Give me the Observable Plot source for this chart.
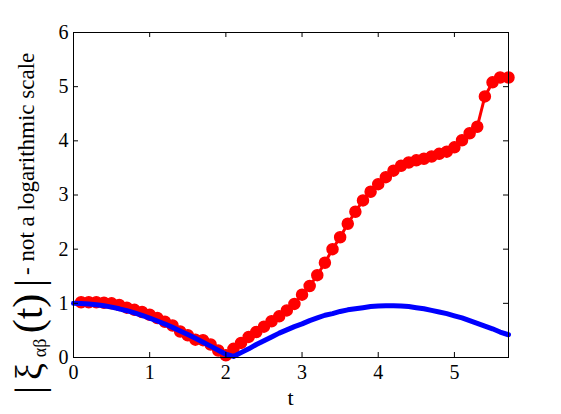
<!DOCTYPE html>
<html><head><meta charset="utf-8">
<script src="https://cdn.jsdelivr.net/npm/d3@7"></script>
<script src="https://cdn.jsdelivr.net/npm/@observablehq/plot@0.6"></script>
<style>body{margin:0;background:#fff}</style>
</head><body>
<script>
// blue series (smooth curve)
const tBlue = [0,0.1,0.2,0.3,0.4,0.5,0.6,0.7,0.8,0.9,1.0,1.1,1.2,1.3,1.4,1.5,1.6,1.7,1.8,1.9,2.0,2.1,2.2,2.3,2.4,2.5,2.6,2.7,2.8,2.9,3.0,3.1,3.2,3.3,3.4,3.5,3.6,3.7,3.8,3.9,4.0,4.1,4.2,4.3,4.4,4.5,4.6,4.7,4.8,4.9,5.0,5.1,5.2,5.3,5.4,5.5,5.6,5.71];
const yBlue = [1.00,0.997,0.989,0.974,0.955,0.93,0.899,0.864,0.823,0.778,0.728,0.674,0.617,0.556,0.491,0.424,0.355,0.283,0.21,0.135,0.06,0.02,0.09,0.16,0.24,0.31,0.38,0.45,0.51,0.57,0.62,0.68,0.73,0.78,0.81,0.85,0.88,0.90,0.92,0.94,0.95,0.955,0.955,0.95,0.94,0.92,0.90,0.87,0.84,0.81,0.77,0.73,0.68,0.63,0.58,0.53,0.47,0.42];
// red series (markers)
const tRed = [0.1,0.2,0.3,0.4,0.5,0.6,0.7,0.8,0.9,1.0,1.1,1.2,1.3,1.4,1.5,1.6,1.7,1.8,1.9,2.0,2.1,2.2,2.3,2.4,2.5,2.6,2.7,2.8,2.9,3.0,3.1,3.2,3.3,3.4,3.5,3.6,3.7,3.8,3.9,4.0,4.1,4.2,4.3,4.4,4.5,4.6,4.7,4.8,4.9,5.0,5.1,5.2,5.3,5.4,5.5,5.6,5.71];
const yRed = [1.02,1.02,1.02,1.01,1.00,0.97,0.92,0.88,0.84,0.79,0.73,0.66,0.59,0.48,0.41,0.33,0.32,0.24,0.13,0.04,0.16,0.27,0.38,0.47,0.57,0.67,0.76,0.87,0.99,1.16,1.32,1.52,1.75,2.00,2.22,2.47,2.69,2.90,3.06,3.20,3.33,3.45,3.54,3.60,3.64,3.67,3.71,3.76,3.80,3.88,4.01,4.14,4.26,4.82,5.08,5.17,5.17];
const xTicks = [0,1,2,3,4,5];
const yTicks = [0,1,2,3,4,5,6];
const xLabel = "t";
const yLabelParts = ["|", "ξ", "αβ", "(t)", "|", "- not a logarithmic scale"];

const blue = tBlue.map((t,i)=>({t, v:yBlue[i]}));
const red = tRed.map((t,i)=>({t, v:yRed[i]}));

const W = 561, H = 414, ML = 73, MR = 53, MT = 32, MB = 57;
const fw = W - ML - MR, fh = H - MT - MB;
const tl = 5;
const serif = "Liberation Serif";

const svg = Plot.plot({
  width: W, height: H,
  marginLeft: ML, marginRight: MR, marginTop: MT, marginBottom: MB,
  style: {fontFamily: serif, fontSize: "20px", background: "#fff", overflow: "visible"},
  x: {domain: [0, 5.71]},
  y: {domain: [0, 6]},
  marks: [
    Plot.line(red, {x: "t", y: "v", stroke: "#ff0000", strokeWidth: 3}),
    Plot.dot(red, {x: "t", y: "v", fill: "#ff0000", stroke: "#ff0000", r: 5.5}),
    Plot.line(blue, {x: "t", y: "v", stroke: "#0000ff", strokeWidth: 5}),
    Plot.frame({stroke: "black", strokeWidth: 1}),
    Plot.tickX(xTicks, {x: d => d, stroke: "black", insetTop: fh - tl}),
    Plot.tickX(xTicks, {x: d => d, stroke: "black", insetBottom: fh - tl}),
    Plot.tickY(yTicks, {y: d => d, stroke: "black", insetRight: fw - tl}),
    Plot.tickY(yTicks, {y: d => d, stroke: "black", insetLeft: fw - tl}),
    Plot.axisX(xTicks, {tickSize: 0, tickPadding: 7, label: null, fontFamily: serif, fontSize: 20, tickFormat: d => String(d)}),
    Plot.axisY(yTicks, {tickSize: 0, tickPadding: 5, label: null, fontFamily: serif, fontSize: 20, tickFormat: d => String(d)})
  ]
});
document.body.appendChild(svg);

const s = d3.select(svg);
s.append("text")
  .attr("x", ML + fw / 2).attr("y", 405)
  .attr("text-anchor", "middle")
  .attr("font-family", serif)
  .attr("font-size", 22)
  .attr("fill", "black")
  .text(xLabel);

// rotated y label pieces: [text, baseline x, centre/start y, size, anchor]
const pieces = [
  [yLabelParts[0], 42, 390, 40, "middle"],
  [yLabelParts[1], 42, 371.5, 38, "middle"],
  [yLabelParts[2], 46, 348, 18, "middle"],
  [yLabelParts[3], 42, 313.5, 42, "middle"],
  [yLabelParts[4], 42, 283, 40, "middle"],
  [yLabelParts[5], 33.5, 275, 23, "start"]
];
for (const [txt, bx, cy, fs, anchor] of pieces) {
  s.append("text")
    .attr("transform", `translate(${bx},${cy}) rotate(-90)`)
    .attr("text-anchor", anchor)
    .attr("font-family", serif)
    .attr("font-size", fs)
    .attr("fill", "black")
    .text(txt);
}
</script>
</body></html>
